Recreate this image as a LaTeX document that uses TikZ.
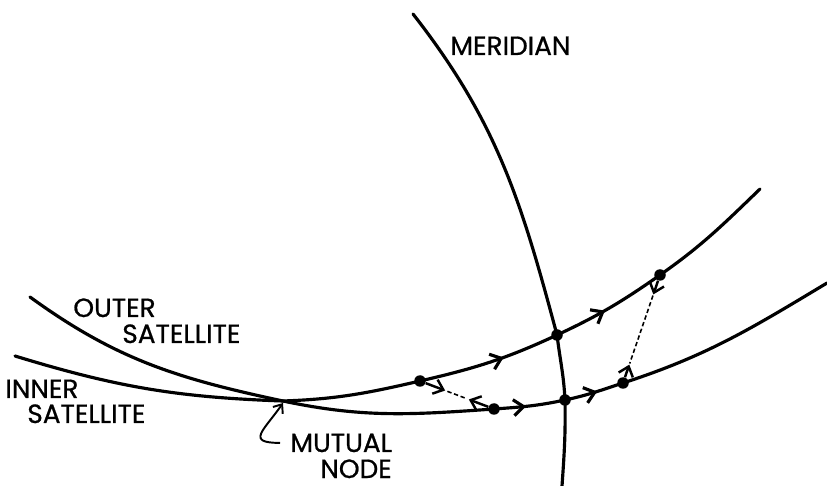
\documentclass[tikz,border=0pt]{standalone}
\usepackage{fontspec}
\setmainfont{Poppins}[FakeBold=0.8]
\usetikzlibrary{arrows.meta, decorations.markings, calc}

\tikzset{
  track/.style={line width=1.8pt, line cap=round},
  dot/.style={circle, fill, inner sep=0pt, minimum size=2.3mm},
  lbl/.style={font=\fontsize{15}{17}\selectfont, inner sep=0pt, anchor=base west},
  flow/.style={postaction={decorate}, decoration={markings,
      mark=at position #1 with {\arrow{Straight Barb[length=2mm,width=3.2mm]}}}},
  drift/.style={line width=0.9pt, dash pattern=on 2.5pt off 1.5pt},
  tip/.style={line width=1.4pt, -{Straight Barb[length=1.8mm,width=3mm]}},
}

\begin{document}
\begin{tikzpicture}[x=0.02cm, y=0.02cm]
    \useasboundingbox (0,0) rectangle (827,486);

    %% ── fixed points (px, y up) ─────────────────────────────────────
    \coordinate (m)      at (283,85);    % mutual node
    \coordinate (ostart) at (30,189);
    \coordinate (oend)   at (827,203);
    \coordinate (istart) at (15,130);
    \coordinate (iend)   at (760,297);
    \coordinate (mtop)   at (413,472);
    \coordinate (mbot)   at (562,0);

    % positions of the two satellites
    \node[dot] (p1) at (494,77)  {};
    \node[dot] (p2) at (565,86)  {};
    \node[dot] (p3) at (623,103) {};
    \node[dot] (q1) at (420,105) {};
    \node[dot] (q2) at (557,151) {};
    \node[dot] (q3) at (660,211) {};

    %% ── meridian ────────────────────────────────────────────────────
    \draw[track] (mtop) to[out=-52,in=105] (q2.center)
                 to[out=-83,in=93] (p2.center)
                 to[out=-89,in=86] (mbot);

    %% ── outer satellite track ───────────────────────────────────────
    \draw[track] (ostart) to[out=-36,in=168] (m) to[out=-12,in=184] (p1.center);
    \draw[track, flow=.45] (p1.center) to[out=4,in=192] (p2.center);
    \draw[track, flow=.55] (p2.center) to[out=12,in=198] (p3.center);
    \draw[track] (p3.center) to[out=18,in=211] (oend);

    %% ── inner satellite track ───────────────────────────────────────
    \draw[track] (istart) to[out=-17,in=178] (m) to[out=2,in=193] (q1.center);
    \draw[track, flow=.6] (q1.center) to[out=13,in=205] (q2.center);
    \draw[track, flow=.45] (q2.center) to[out=25,in=215] (q3.center);
    \draw[track] (q3.center) to[out=35,in=224] (iend);

    %% ── separations ─────────────────────────────────────────────────
    \draw[tip] (q1) -- ($(q1)!.34!(p1)$);
    \draw[drift] ($(q1)!.37!(p1)$) -- ($(q1)!.63!(p1)$);
    \draw[tip] (p1) -- ($(p1)!.34!(q1)$);

    \draw[tip] (q3) -- ($(q3)!.18!(p3)$);
    \draw[drift] ($(q3)!.19!(p3)$) -- ($(q3)!.82!(p3)$);
    \draw[tip] (p3) -- ($(p3)!.17!(q3)$);

    %% ── labels ──────────────────────────────────────────────────────
    \node[lbl] (meridian) at (450,431) {MERIDIAN};
    \node[lbl] (outer)    at (73,169)  {OUTER};
    \node[lbl] (outersat) at (122,143) {SATELLITE};
    \node[lbl] (inner)    at (5,88)    {INNER};
    \node[lbl] (innersat) at (27,63)   {SATELLITE};
    \node[lbl] (mutual)   at (290,34)  {MUTUAL};
    \node[lbl] (nodelbl)  at (320,8)   {NODE};

    \draw[line width=1.1pt, -{Straight Barb[length=1.5mm,width=2.4mm]}]
      ([xshift=-2mm]mutual.west) to[out=180,in=235,looseness=2.2] ([yshift=-0.4mm]m);

  \end{tikzpicture}
\end{document}
